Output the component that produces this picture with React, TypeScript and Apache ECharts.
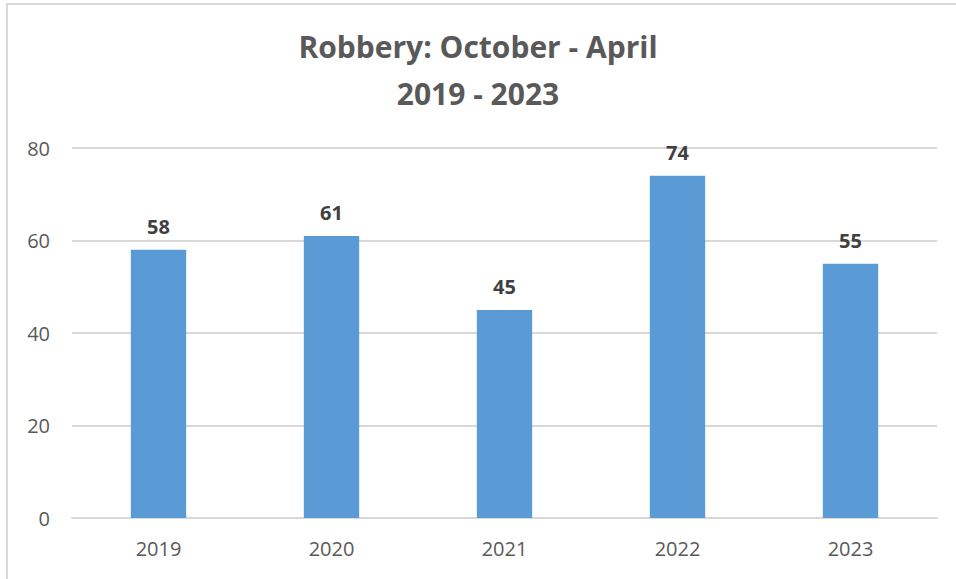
import React, { useEffect, useRef } from "react";
import * as echarts from "echarts";

const categories = ["2019", "2020", "2021", "2022", "2023"];
const values = [58, 61, 45, 74, 55];
const titleLines = ["Robbery: October - April", "2019 - 2023"];

export default function App() {
  const ref = useRef<HTMLDivElement>(null);
  useEffect(() => {
    if (!ref.current) return;
    const chart = echarts.init(ref.current, null, { renderer: "svg" });
    chart.setOption({
      animation: false,
      backgroundColor: "#ffffff",
      textStyle: { fontFamily: "Open Sans" },
      graphic: [
        {
          type: "rect",
          shape: { x: 7, y: 4, width: 1000, height: 1000 },
          style: { fill: "none", stroke: "#d9d9d9", lineWidth: 2 },
          silent: true,
        },
      ],
      title: {
        text: titleLines.join("\n"),
        left: "center",
        top: 18,
        textStyle: {
          fontFamily: "Open Sans",
          fontSize: 30,
          fontWeight: "bold",
          color: "#595959",
          lineHeight: 47,
        },
      },
      grid: { left: 72, right: 19, top: 148, bottom: 61 },
      xAxis: {
        type: "category",
        data: categories,
        axisLine: { lineStyle: { color: "#d9d9d9", width: 2 } },
        axisTick: { show: false },
        axisLabel: { color: "#595959", fontSize: 20, margin: 20 },
      },
      yAxis: {
        type: "value",
        min: 0,
        max: 80,
        interval: 20,
        axisLine: { show: false },
        axisTick: { show: false },
        axisLabel: { color: "#595959", fontSize: 20, margin: 22 },
        splitLine: { lineStyle: { color: "#d9d9d9", width: 2 } },
      },
      series: [
        {
          type: "bar",
          data: values,
          barWidth: "32%",
          itemStyle: { color: "#5b9bd5" },
          label: {
            show: true,
            position: "top",
            distance: 13,
            color: "#404040",
            fontSize: 20,
            fontWeight: "bold",
          },
        },
      ],
    });
    return () => chart.dispose();
  }, []);
  return (
    <div
      ref={ref}
      style={{ position: "fixed", left: 0, top: 0, width: 956, height: 579 }}
    />
  );
}
